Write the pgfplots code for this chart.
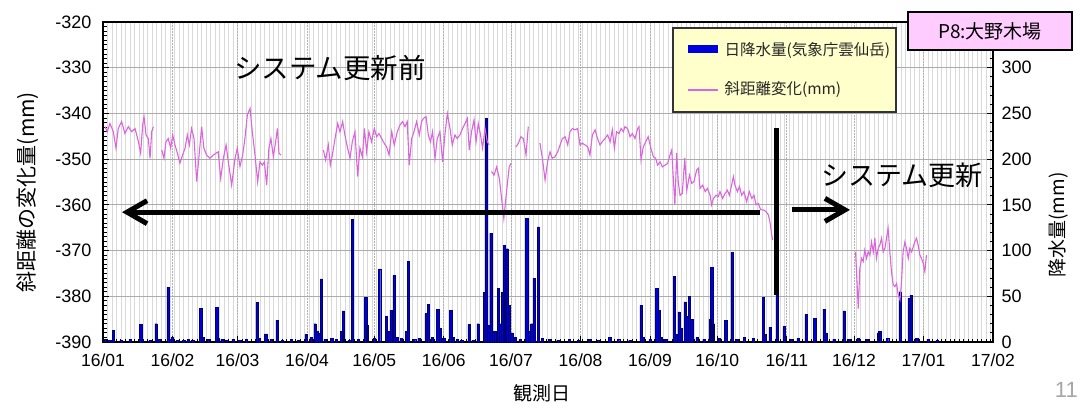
\documentclass[border=0pt]{standalone}
\usepackage{pgfplots}
\pgfplotsset{compat=1.18}
\usepackage{fontspec}
\setmainfont{Liberation Sans}
\newfontfamily\jp{Noto Sans CJK JP}
\usetikzlibrary{arrows.meta}
\definecolor{rainblue}{RGB}{0,0,220}
\definecolor{rainedge}{RGB}{0,0,110}
\definecolor{pinkline}{RGB}{220,100,220}
\definecolor{legyellow}{RGB}{255,255,204}
\definecolor{titlepink}{RGB}{255,204,255}
\begin{document}
\begin{tikzpicture}
\path[use as bounding box] (0pt,0pt) rectangle (1082pt,405pt);
% ---------- rain (right axis) with grid ----------
\begin{axis}[at={(103pt,63pt)}, anchor=south west, scale only axis,
  width=890pt, height=320pt,
  xmin=0, xmax=397, ymin=0, ymax=350,
  xtick={0,31,60,91,121,152,182,213,244,274,305,335,366,397},
  xticklabels={16/01,16/02,16/03,16/04,16/05,16/06,16/07,16/08,16/09,16/10,16/11,16/12,17/01,17/02},
  minor xtick={0,2,...,396},
  ytick={0,50,...,300},
  minor ytick={0,10,...,350},
  xtick pos=bottom, ytick pos=right, yticklabel pos=right,
  tick align=inside,
  major tick length=6pt, minor tick length=3.5pt,
  tick style={black, line width=0.9pt},
  xmajorgrids, xminorgrids, ymajorgrids,
  major x grid style={gray!60, line width=0.8pt, dash pattern=on 2pt off 1pt},
  minor x grid style={gray!30, line width=0.7pt},
  major y grid style={gray!65, line width=0.8pt},
  axis line style={black, line width=1.8pt},
  /pgf/number format/assume math mode=true,
  xticklabel style={font=\fontsize{17.5}{20}\selectfont, yshift=-8pt},
  yticklabel style={font=\fontsize{18}{20}\selectfont, xshift=5pt},
]
\addplot[ybar, bar width=2.2pt, fill=rainblue, draw=rainedge, line width=0.4pt] coordinates {
(1,3)(3,2)(4.6,13)(8,2)(12,3)(16.8,19)(17.5,3)(21,2)(23.6,20)(25,3)(29,60)(30,3)(31,5)(33,2)(36,2)(38,3)(40,2)
(43.6,37)(44.5,5)(47,3)(50.7,38)(51.5,4)(53,3)(55,2)(58,3)(61,2)(64,3)(68.7,43)(69.5,4)(72.6,9)(75,3)(77.6,24)
(80,2)(84,3)(87,2)(90.5,8)(93,5)(94.6,20)(95.5,12)(96.3,10)(97.4,69)(99,3)(102,4)(104,3)(106.5,12)(107.3,34)
(110,2)(111.2,134)(114,3)(117.2,49)(118,18)(121,4)(123.4,80)(126.5,28)(127.5,12)(128.5,35)(129.8,73)(131,5)
(133,4)(135.4,12)(136.2,88)(139,3)(141,4)(144.1,31)(145.2,41)(147,5)(149.3,36)(150.3,15)(152,4)(155.1,35)(156,5)
(158,3)(160,2)(163.2,19)(165,2)(167.3,20)(170.1,54)(171.1,245)(172,18)(173,119)(174,12)(175,12)(176.3,59)
(177.3,20)(178.3,54)(179.1,106)(180.3,102)(181.2,40)(182.3,10)(184,5)(186,3)(189,135)(190,12)(191.2,20)
(192.2,70)(194.2,126)(196,4)(199,3)(203,2)(208,3)(212,2)(217,3)(221,2)(226,5)(230,3)(235,2)(240,40)(241,5)
(244,3)(247,59)(248,35)(249,5)(251,3)(254.8,72)(255.8,8)(256.9,33)(257.8,15)(259.6,44)(260.7,28)(261.6,50)
(262.6,25)(265,5)(268,3)(270.8,25)(271.5,82)(272.3,20)(275,4)(277.8,24)(280.6,98)(283,3)(286,5)(290,4)
(294.6,49)(295.5,8)(297.5,16)(300.8,52)(303.8,17)(307,3)(310,4)(313.6,30)(317.5,26)(321.6,36)(322.5,10)
(326,3)(330.5,34)(333,3)(337,4)(341,3)(345.8,10)(346.5,12)(350,4)(355.5,55)(359.5,48)(360.4,51)(363,4)
(368,3)(372,2)
};
\end{axis}
% ---------- slope distance (left axis) ----------
\begin{axis}[at={(103pt,63pt)}, anchor=south west, scale only axis,
  width=890pt, height=320pt,
  xmin=0, xmax=397, ymin=-390, ymax=-320,
  axis x line=none, axis y line*=left,
  ytick={-390,-380,...,-320},
  minor ytick={-390,-389,...,-320},
  tick align=inside,
  major tick length=6pt, minor tick length=3.5pt,
  tick style={black, line width=0.9pt},
  axis line style={black, line width=1.8pt},
  /pgf/number format/assume math mode=true,
  yticklabel style={font=\fontsize{18}{20}\selectfont, xshift=-8pt},
  clip=false,
]
\addplot[pinkline, line width=1.1pt] coordinates {
(0.9,-342.9)(1.9,-344.0)(3.1,-342.2)(4.6,-344.0)(5.8,-347.6)(6.8,-343.3)(8.3,-341.8)(9.8,-344.4)(11.3,-342.9)
(12.8,-344.0)(14.3,-343.3)(15.8,-346.2)(16.8,-348.7)(17.7,-342.5)(18.3,-340.7)(19.2,-344.7)(20.2,-345.5)
(21.0,-349.8)(21.7,-344.0)(22.5,-342.9)};
\addplot[pinkline, line width=1.1pt] coordinates {
(26.2,-348.0)(27.2,-349.8)(28.1,-346.2)(29.1,-345.5)(30.2,-347.6)(31.1,-344.7)(32.1,-346.9)(33.2,-348.7)
(34.3,-350.9)(35.5,-349.1)(36.6,-347.6)(37.6,-344.7)(38.5,-346.9)(39.5,-343.3)(40.6,-345.5)(41.8,-354.9)
(43.0,-348.4)(44.0,-342.9)(45.0,-347.6)(46.2,-349.1)(47.7,-349.8)(49.2,-349.1)(50.4,-348.7)(51.4,-348.4)
(52.5,-354.2)(53.7,-349.8)(54.9,-346.9)(55.9,-350.6)(57.4,-355.7)(58.9,-349.8)(59.9,-347.6)(61.1,-351.6)
(62.3,-349.1)(63.3,-345.5)(64.4,-340.3)(65.6,-338.9)(66.6,-344.0)(67.8,-349.1)(69.0,-355.0)(70.0,-350.6)
(71.1,-351.3)(72.0,-350.6)(73.0,-355.7)(74.0,-347.6)(74.9,-345.5)(76.0,-349.5)(77.0,-346.2)(77.8,-343.3)
(78.5,-348.7)(79.4,-349.1)};
\addplot[pinkline, line width=1.1pt] coordinates {
(98.3,-348.0)(99.3,-350.2)(100.5,-346.9)(101.4,-351.3)(102.3,-349.1)(103.5,-345.5)(104.7,-342.2)(105.7,-344.0)
(106.9,-341.8)(107.9,-344.7)(109.1,-347.6)(110.2,-349.8)(111.2,-346.2)(112.4,-344.0)(113.6,-353.8)(114.6,-347.6)
(115.7,-349.5)(116.6,-343.3)(117.6,-348.4)(118.6,-344.0)(119.8,-346.2)(121.0,-343.3)(122.1,-345.1)(123.1,-344.4)
(124.3,-345.5)(125.5,-346.6)(126.5,-347.3)(127.6,-349.1)(128.8,-344.0)(129.9,-346.9)(131.3,-344.0)(132.5,-342.5)
(133.6,-341.8)(134.7,-342.9)(135.7,-341.8)(136.6,-351.3)(137.7,-345.5)(138.7,-344.0)(139.9,-341.8)(141.1,-344.7)
(142.1,-341.8)(142.9,-341.1)(144.1,-340.7)(145.1,-344.7)(146.1,-346.2)(147.0,-344.0)(148.1,-349.8)(149.1,-345.5)
(150.3,-344.0)(151.5,-350.6)(152.5,-344.7)(153.6,-340.0)(154.8,-343.3)(155.8,-346.9)(157.0,-344.7)(158.0,-345.5)
(159.2,-344.7)(160.4,-343.3)(161.5,-342.2)(162.5,-341.1)(163.4,-348.0)(164.4,-344.0)(165.5,-341.4)(166.4,-346.2)
(167.4,-342.2)(168.4,-344.7)(169.3,-347.6)(170.4,-343.3)(171.4,-346.2)(172.3,-346.9)};
\addplot[pinkline, line width=1.1pt] coordinates {
(173.3,-352.7)(174.4,-353.5)(175.6,-351.7)(176.8,-354.2)(177.8,-358.6)(178.8,-363.0)(180.0,-357.1)(181.2,-351.7)
(182.0,-350.9)};
\addplot[pinkline, line width=1.1pt] coordinates {
(184.2,-347.3)(185.2,-346.6)(186.4,-345.1)(187.5,-345.5)(188.7,-349.1)(189.7,-342.9)};
\addplot[pinkline, line width=1.1pt] coordinates {
(194.9,-346.5)(196.0,-349.8)(197.2,-354.6)(198.3,-350.6)(199.4,-348.4)(200.4,-349.8)(201.6,-349.5)(202.8,-348.4)
(203.9,-346.9)(204.9,-345.5)(206.1,-345.1)(207.3,-346.9)(208.3,-344.0)(209.4,-343.3)(210.5,-343.6)(211.7,-343.3)
(212.8,-346.9)(213.8,-346.5)(215.0,-346.9)(216.2,-347.3)(217.2,-349.1)(218.3,-344.7)(219.5,-343.6)(220.6,-345.5)
(221.7,-346.9)(222.7,-346.2)(223.9,-345.5)(225.1,-344.7)(226.2,-346.2)(227.2,-343.6)(228.1,-347.6)(229.1,-344.0)
(230.2,-344.4)(231.1,-343.3)(232.1,-344.0)(232.8,-342.9)(234.0,-343.3)(235.1,-345.1)(236.1,-344.4)(237.3,-345.5)
(238.5,-343.3)(239.1,-342.9)(240.0,-350.2)(241.0,-347.3)(242.1,-346.2)(243.2,-345.1)(244.4,-347.6)(245.5,-349.5)
(246.5,-349.8)(247.4,-351.3)(248.5,-350.6)(249.5,-351.7)(250.7,-351.3)(251.9,-350.9)(252.9,-349.1)(253.7,-348.0)
(254.4,-354.2)(255.1,-360.0)(255.9,-348.7)(256.6,-354.9)(257.4,-357.9)(258.4,-357.5)(259.5,-349.8)(260.4,-356.8)
(261.6,-353.5)(262.6,-355.3)(263.6,-354.9)(264.8,-352.4)(265.6,-352.0)(266.3,-356.4)(267.5,-355.7)(268.6,-357.1)
(269.6,-356.4)(270.8,-357.9)(271.5,-360.0)(272.3,-358.6)(273.5,-357.9)(274.5,-358.2)(275.2,-357.1)(276.4,-358.6)
(277.5,-357.5)(278.5,-356.8)(279.4,-357.9)(280.4,-355.7)(281.2,-353.8)(281.9,-355.7)(283.0,-357.1)(283.9,-356.0)
(284.9,-357.9)(285.9,-357.1)(287.1,-359.3)(288.3,-357.1)(289.4,-358.6)(290.4,-357.9)(291.3,-360.0)(292.3,-359.7)
(293.4,-361.1)(294.6,-361.1)(295.8,-361.5)(296.8,-362.2)(297.5,-363.7)(298.3,-366.6)(298.7,-367.7)};
\addplot[pinkline, line width=1.1pt] coordinates {
(335.7,-370.3)(336.9,-382.7)(337.6,-373.9)(338.4,-371.7)(339.1,-372.4)(339.8,-369.9)(340.6,-371.7)(341.3,-370.3)
(342.1,-371.0)(342.8,-368.1)(343.6,-370.3)(344.3,-367.3)(345.0,-371.7)(345.8,-369.5)(346.5,-368.8)(347.3,-367.3)
(348.0,-370.3)(348.8,-369.5)(349.5,-367.3)(350.2,-365.1)(351.0,-370.3)(351.7,-374.6)(352.5,-377.5)(353.2,-377.9)
(354.0,-377.2)(354.7,-379.7)(355.5,-380.8)(356.2,-376.8)(356.9,-370.3)(357.7,-368.1)(358.4,-369.5)(359.2,-371.7)
(359.9,-369.5)(360.7,-370.3)(361.4,-369.2)(362.1,-368.1)(362.9,-367.3)(363.6,-368.8)(364.4,-371.0)(365.1,-371.7)
(365.9,-372.8)(366.6,-374.6)(367.3,-371.0)};
% annotations
\draw[line width=5pt, -{Straight Barb[length=20pt,width=23pt]}] (axis cs:293,-361.6) -- (axis cs:8.5,-361.6);
\draw[line width=5pt] (axis cs:300.4,-343.2) -- (axis cs:300.4,-379.7);
\draw[line width=5pt, -{Straight Barb[length=20pt,width=23pt]}] (axis cs:307.3,-361.1) -- (axis cs:333.2,-361.1);
\end{axis}
% texts and boxes
\node[font=\jp\fontsize{27.5}{30}\selectfont] at (330pt,337pt) {システム更新前};
\node[font=\jp\fontsize{27}{30}\selectfont] at (902pt,230pt) {システム更新};
% legend
\draw[fill=legyellow, draw=black!80, line width=1.2pt] (673pt,293pt) rectangle (896pt,377pt);
\fill[rainblue] (688pt,352pt) rectangle (718pt,360pt);
\node[anchor=west, font=\jp\fontsize{15.5}{18}\selectfont, text=black!85] at (721pt,355pt) {日降水量(気象庁雲仙岳)};
\draw[pinkline, line width=1.3pt] (688pt,315pt) -- (718pt,315pt);
\node[anchor=west, font=\jp\fontsize{15.5}{18}\selectfont, text=black!85] at (721pt,315pt) {斜距離変化(mm)};
% title box
\draw[fill=titlepink, draw=black, line width=1.4pt] (908pt,355pt) rectangle (1072pt,393pt);
\node[font=\jp\fontsize{19}{22}\selectfont] at (990pt,374pt) {P8:大野木場};
% axis titles
\node[rotate=90, font=\jp\fontsize{21}{24}\selectfont] at (28pt,213pt) {斜距離の変化量(mm)};
\node[rotate=90, font=\jp\fontsize{19}{22}\selectfont] at (1058pt,180pt) {降水量(mm)};
\node[font=\jp\fontsize{19}{22}\selectfont] at (542pt,12pt) {観測日};
\node[anchor=south east, font=\fontsize{22}{24}\selectfont, text=gray!70, inner sep=0pt] at (1078pt,7pt) {11};
\end{tikzpicture}
\end{document}
